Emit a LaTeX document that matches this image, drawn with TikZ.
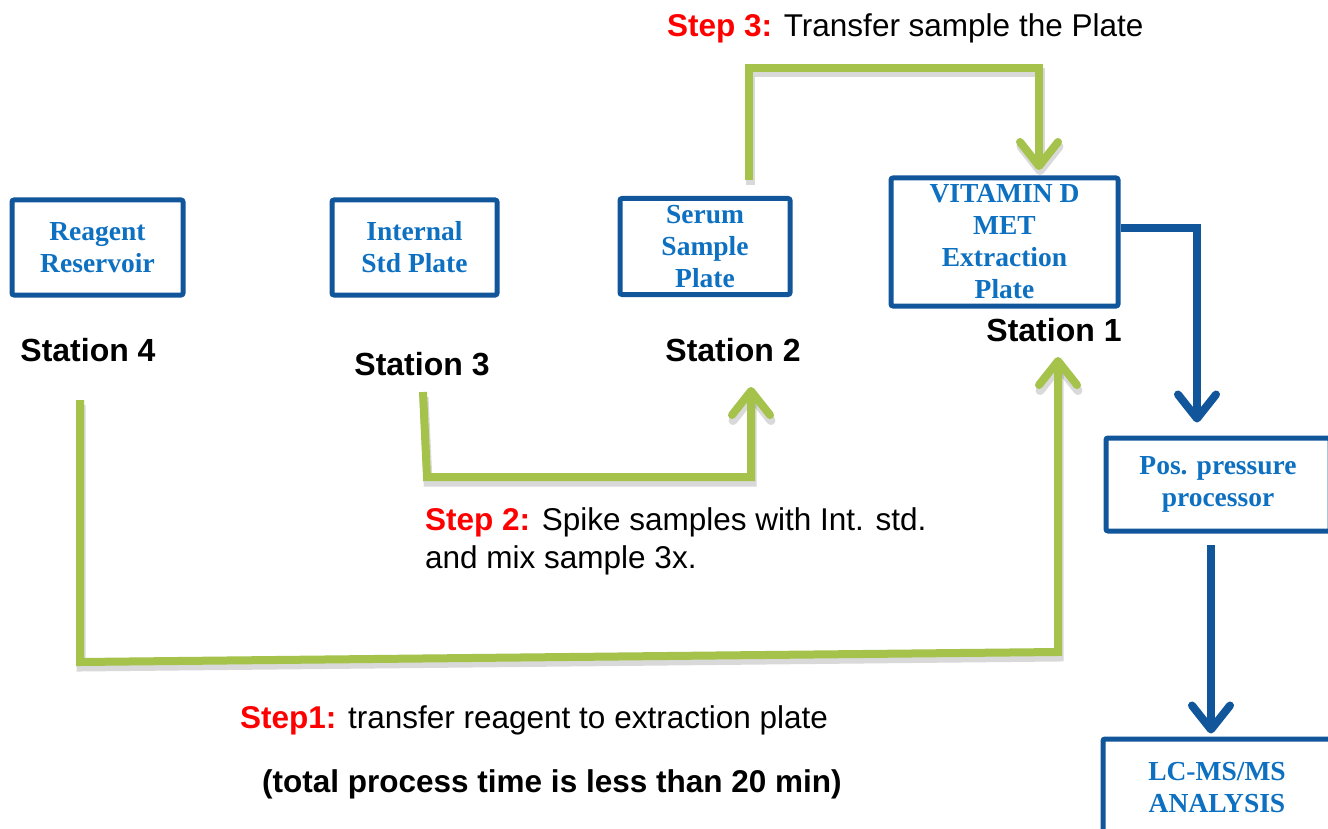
\documentclass[tikz,border=0pt]{standalone}
\usepackage{fontspec}
\setmainfont{Liberation Serif}
\newfontfamily\arialf{Liberation Sans}
\usetikzlibrary{arrows.meta}
\definecolor{lgreen}{HTML}{A5C34A}
\definecolor{bborder}{HTML}{11559B}
\definecolor{btext}{HTML}{0E70C0}
\definecolor{sred}{HTML}{FF0000}
\tikzset{
  plate/.style={draw=bborder, line width=5pt, rounded corners=2pt, fill=white, inner sep=0pt,
    align=center, text=btext, font=\bfseries\fontsize{27.5}{32}\selectfont},
  stlabel/.style={font=\arialf\bfseries\fontsize{32}{36}\selectfont, inner sep=0pt},
  steptext/.style={font=\arialf\fontsize{31.5}{38}\selectfont, inner sep=0pt, align=left},
  garrow/.style={draw=lgreen, line width=8pt, line join=miter,
    preaction={draw=black, opacity=.15, line width=9pt, transform canvas={shift={(1pt,-5pt)}}}},
  gtip/.style={-{Straight Barb[length=24pt,width=38pt,line cap=round,line join=round]}},
  barrow/.style={draw=bborder, line width=8pt, -{Straight Barb[length=24pt,width=38pt,line cap=round,line join=round]}},
}
\begin{document}
\begin{tikzpicture}[x=1pt,y=-1pt]
\clip (0,0) rectangle (1328,829);
\fill[white] (0,0) rectangle (1328,829);

% plates
\node[plate, minimum width=171pt, minimum height=95pt] (reag) at (97.5,247.5) {Reagent\\Reservoir};
\node[plate, minimum width=165pt, minimum height=95pt] (istd) at (414.5,247.5) {Internal\\Std Plate};
\node[plate, minimum width=170pt, minimum height=96pt] (serum) at (705,246.5) {Serum\\Sample\\Plate};
\node[plate, minimum width=227pt, minimum height=128pt] (vit) at (1004.5,242) {VITAMIN D\\MET\\Extraction\\Plate};
\node[plate, minimum width=224pt, minimum height=93pt] (pos) at (1218,484.5) {Pos. pressure\\processor};
\node[plate, minimum width=228pt, minimum height=98pt] (lc) at (1217,788) {LC-MS/MS\\ANALYSIS};

% station labels
\node[stlabel] (st4) at (88,350) {Station 4};
\node[stlabel] (st3) at (422,364) {Station 3};
\node[stlabel] (st2) at (733,350) {Station 2};
\node[stlabel] (st1) at (1054,330) {Station 1};

% step texts
\node[steptext, anchor=west] (s3) at (667,28) {\textcolor{sred}{\bfseries Step 3:} Transfer sample the Plate};
\node[steptext, anchor=west] (s2) at (425,541) {\textcolor{sred}{\bfseries Step 2:} Spike samples with Int. std.\\and mix sample 3x.};
\node[steptext, anchor=west] (s1) at (240,720) {\textcolor{sred}{\bfseries Step1:} transfer reagent to extraction plate};
\node[steptext, anchor=west, font=\arialf\bfseries\fontsize{31.5}{38}\selectfont] (tot) at (262,784) {(total process time is less than 20 min)};

% coordinates for green connectors
\coordinate (a1) at (80,400);
\coordinate (a1b) at (80,662);
\coordinate (a1c) at (1058,652);
\coordinate (a1t) at (1058,357);
\coordinate (a2) at (423,392);
\coordinate (a2b) at (427,477);
\coordinate (a2c) at (751,477);
\coordinate (a2t) at (751,387);
\coordinate (a3) at (749,180);
\coordinate (a3b) at (749,68);
\coordinate (a3c) at (1039,68);
\coordinate (a3t) at (1039,170);

\draw[garrow, gtip] (a1) -- (a1b) -- (a1c) -- (a1t);
\draw[garrow, gtip] (a2) -- (a2b) -- (a2c) -- (a2t);
\draw[garrow, gtip] (a3) -- (a3b) -- (a3c) -- (a3t);

% blue connectors
\coordinate (b1) at (1197,228);
\draw[barrow] (vit.east |- b1) -- (b1) -- ([yshift=13pt]pos.north -| b1);
\coordinate (b2) at (1211,545);
\draw[barrow] (b2) -- ([yshift=3pt]lc.north -| b2);
\end{tikzpicture}
\end{document}
